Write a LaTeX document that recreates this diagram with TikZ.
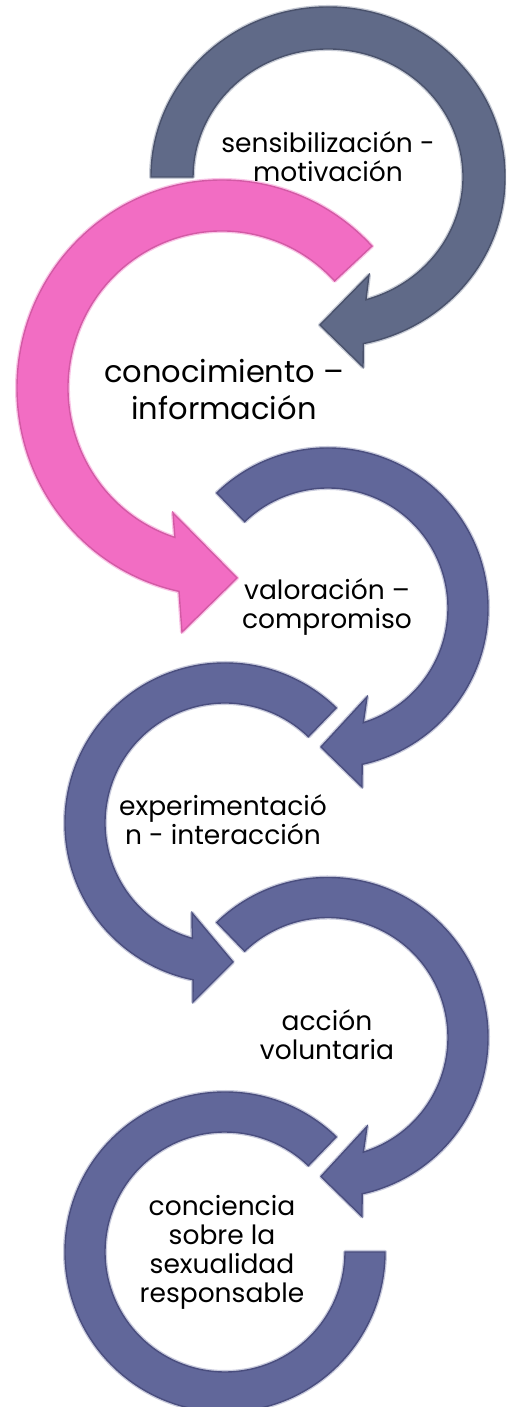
\documentclass[tikz,border=0pt]{standalone}
\usepackage{fontspec}
\setmainfont{Poppins}
\definecolor{slateA}{HTML}{606A88}
\definecolor{slateAedge}{HTML}{4A526C}
\definecolor{slateB}{HTML}{61679A}
\definecolor{slateBedge}{HTML}{4A4E7E}
\definecolor{pinkA}{HTML}{F26DC3}
\definecolor{pinkAedge}{HTML}{D35AA5}
\tikzset{
  arrA/.style={preaction={draw=slateA!35,line width=4pt,line join=round},
               fill=slateA, draw=slateAedge, line width=1.4pt, line join=miter},
  arrB/.style={preaction={draw=slateB!35,line width=4pt,line join=round},
               fill=slateB, draw=slateBedge, line width=1.4pt, line join=miter},
  arrP/.style={preaction={draw=pinkA!40,line width=4pt,line join=round},
               fill=pinkA, draw=pinkAedge, line width=1.4pt, line join=miter},
  lbl/.style={align=center, text=black, inner sep=0pt, anchor=base,
              font=\fontsize{26.5}{29}\selectfont},
  lblbig/.style={lbl, font=\fontsize{30.5}{37}\selectfont},
}
\begin{document}
\begin{tikzpicture}[x=1pt,y=1pt]
\useasboundingbox (0,0) rectangle (506,1407);
\clip (0,0) rectangle (506,1407);
\coordinate (c1) at (328,1230);
\coordinate (c2) at (222,1019);
\coordinate (c3) at (328,799);
\coordinate (c4) at (225,584);
\coordinate (c5) at (328,369.5);
\coordinate (c6) at (225,155);
% arrow 1
\path[arrA] ([shift={(180:177 and 170)}]c1)
  arc[start angle=180,end angle=-78.5,x radius=177,y radius=170]
  -- ([shift={(35,-190)}]c1) -- ([shift={(-8,-148)}]c1) -- ([shift={(41,-98)}]c1)
  -- ([shift={(-73.7:135 and 128)}]c1)
  arc[start angle=-73.7,end angle=180,x radius=135,y radius=128] -- cycle;
% arrow 3
\path[arrB] ([shift={(134:160)}]c3)
  arc[start angle=134,end angle=-77.7,radius=160]
  -- ([shift={(34,-179)}]c3) -- ([shift={(-7,-139)}]c3) -- ([shift={(39,-89)}]c3)
  -- ([shift={(-72.9:120)}]c3)
  arc[start angle=-72.9,end angle=134,radius=120] -- cycle;
% arrow 4
\path[arrB] ([shift={(46:160)}]c4)
  arc[start angle=46,end angle=258.5,radius=160]
  -- ([shift={(-32,-179)}]c4) -- ([shift={(8,-139)}]c4) -- ([shift={(-33,-90)}]c4)
  -- ([shift={(254.2:120)}]c4)
  arc[start angle=254.2,end angle=46,radius=120] -- cycle;
% arrow 5
\path[arrB] ([shift={(134:160)}]c5)
  arc[start angle=134,end angle=-77.7,radius=160]
  -- ([shift={(34,-179)}]c5) -- ([shift={(-7,-139)}]c5) -- ([shift={(39,-89)}]c5)
  -- ([shift={(-72.9:120)}]c5)
  arc[start angle=-72.9,end angle=134,radius=120] -- cycle;
% arrow 6 (no head)
\path[arrB] ([shift={(46:160)}]c6)
  arc[start angle=46,end angle=360,radius=160]
  -- ([shift={(120,0)}]c6)
  arc[start angle=360,end angle=46,radius=120] -- cycle;
% arrow 2 (pink)
\path[arrP] ([shift={(43:205 and 208)}]c2)
  arc[start angle=43,end angle=257.9,x radius=205,y radius=208]
  -- ([shift={(-40,-244)}]c2) -- ([shift={(15,-190)}]c2) -- ([shift={(-49,-125)}]c2)
  -- ([shift={(252.2:154 and 157)}]c2)
  arc[start angle=252.2,end angle=43,x radius=154,y radius=157] -- cycle;
% labels (anchor = baseline of last line)
\node[lbl] (t1) at (328,1225) {sensibilización -\\motivación};
\node[lblbig] (t2) at (224,987) {conocimiento –\\información};
\node[lbl] (t3) at (327,778) {valoración –\\compromiso};
\node[lbl] (t4) at (223,562) {experimentació\\n - interacción};
\node[lbl] (t5) at (327,347) {acción\\voluntaria};
\node[lbl] (t6) at (222,104) {conciencia\\sobre la\\sexualidad\\responsable};
\end{tikzpicture}
\end{document}
